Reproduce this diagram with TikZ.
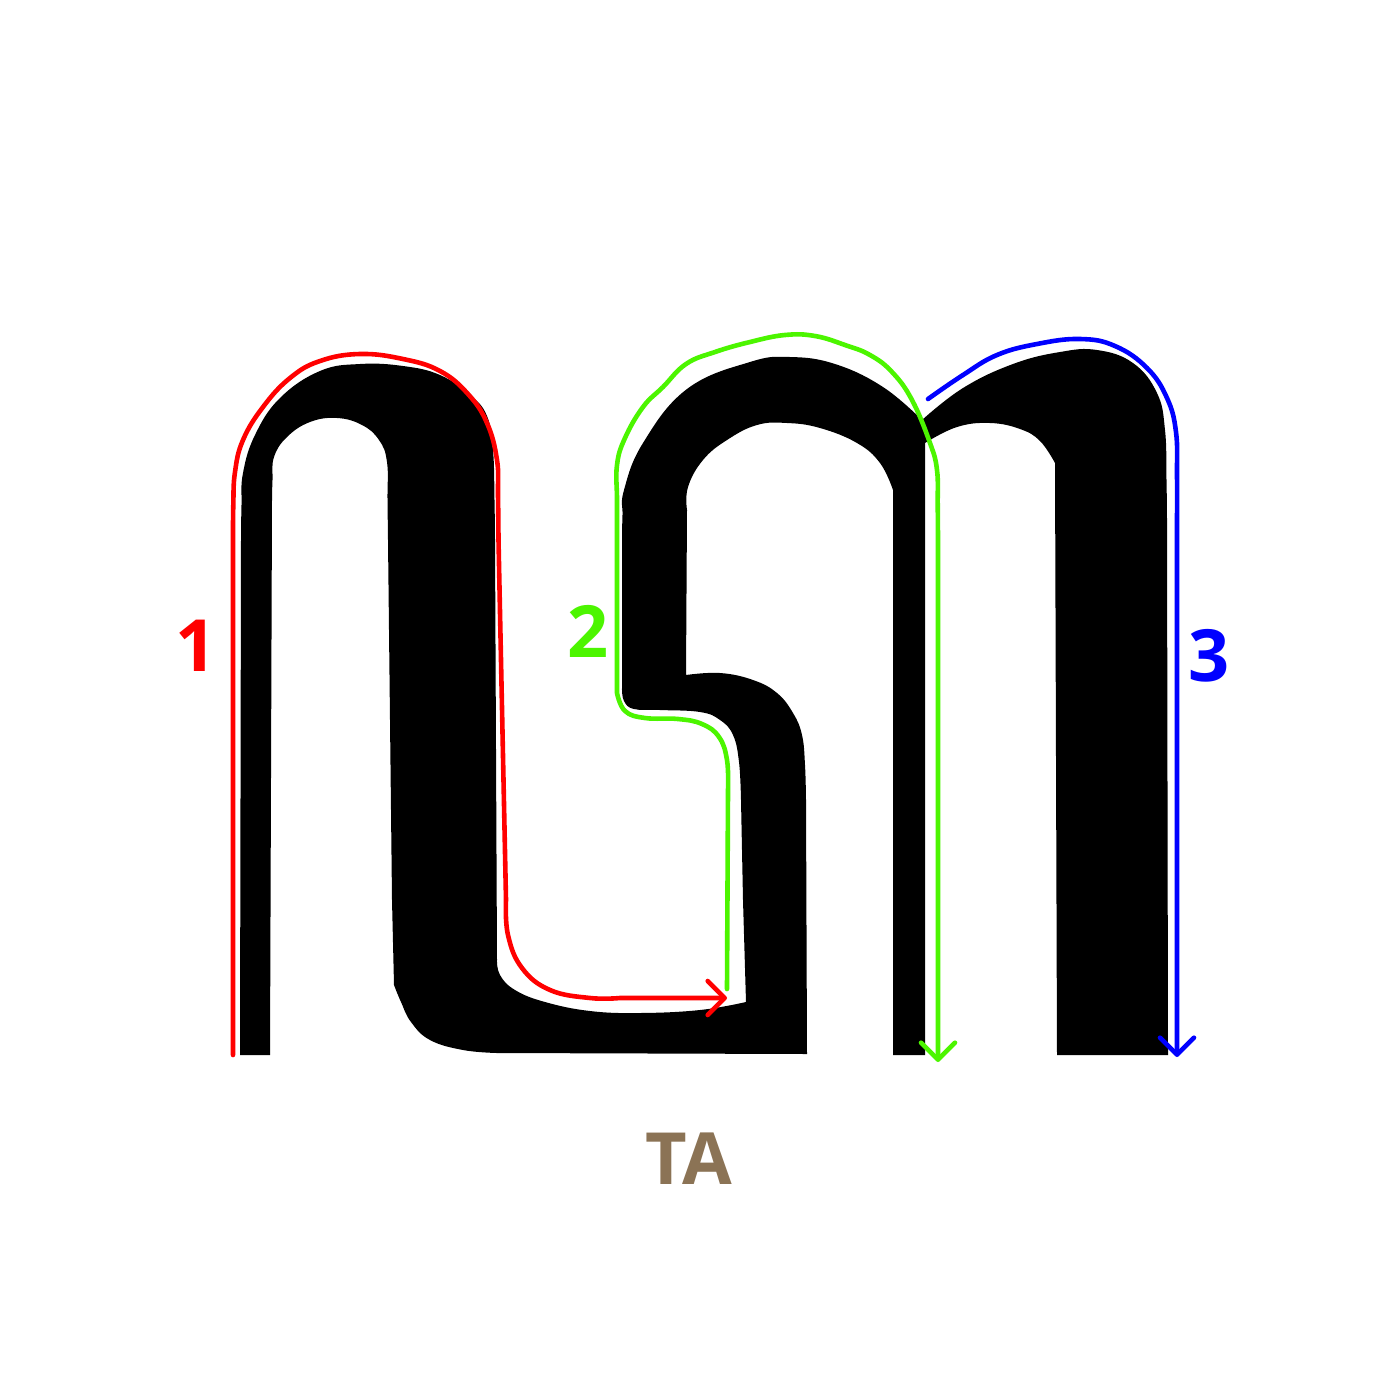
\documentclass[tikz,border=0pt]{standalone}
\usepackage{fontspec}
\newfontfamily\labfont{Open Sans}
\usetikzlibrary{arrows.meta}
\definecolor{strokered}{RGB}{255,0,0}
\definecolor{strokegreen}{RGB}{76,245,0}
\definecolor{strokeblue}{RGB}{0,0,255}
\definecolor{tabrown}{RGB}{139,115,85}
\tikzset{
  stroke/.style={line width=2.3pt, line cap=round, line join=round,
     -{Straight Barb[length=8.5pt,width=17pt,line width=2.3pt,round]}},
  lab/.style={inner sep=0pt, font=\labfont\bfseries\fontsize{36}{40}\selectfont},
  sm/.style={smooth,tension=0.7},
}
\begin{document}
\begin{tikzpicture}[x=0.5pt,y=-0.5pt]
\useasboundingbox (0,0) rectangle (1377,1377);
\fill[white] (0,0) rectangle (1377,1377);
% glyph
\fill[black] (240,1055) -- (241,540)
 -- plot[sm] coordinates {(241,540) (241.5,505) (243,473) (255,435) (280,398) (320,371) (360,364) (403,366) (440,375) (470,395) (487,416) (493,450) (494.5,500) (495,540)}
 -- (497,960)
 -- plot[sm] coordinates {(497,960) (500,975) (515,990) (545,1002) (590,1011) (640,1013) (700,1010) (746,1002)}
 -- (743,900) -- (741,800)
 -- plot[sm] coordinates {(741,800) (739,762) (733,735) (720,720) (700,712) (660,710) (634,709) (624,701) (622,688)}
 -- (622,540)
 -- plot[sm] coordinates {(622,540) (622.5,515) (624,490) (643,443) (687,389) (750,362) (790,357) (835,364) (883,387) (922,420)}
 -- plot[sm] coordinates {(922,420) (963,388) (1013,364) (1060,352) (1097,350) (1133,363) (1157,393) (1165,430) (1166.5,480) (1167,520)}
 -- (1168,1055) -- (1057,1055) -- (1055,463)
 -- plot[sm] coordinates {(1055,463) (1040,441) (1020,429) (990,423) (957,427) (925,443)}
 -- (925,1055) -- (893,1055) -- (893,490)
 -- plot[sm] coordinates {(893,490) (880,463) (857,443) (820,428) (787,423) (757,425) (727,440) (703,460) (688,487) (687,510)}
 -- (686,675)
 -- plot[sm] coordinates {(686,675) (720,673) (753,680) (777,693) (793,713) (802,735) (805,765) (806,800)}
 -- (807,1054) -- (497,1053)
 -- plot[sm] coordinates {(497,1053) (463,1050) (430,1040) (411,1022) (401,1002) (394,985)}
 -- (392,900) -- (388,540)
 -- plot[sm] coordinates {(388,540) (387.5,500) (387,462) (379,440) (362,425) (337,418) (310,422) (287,437) (274,457) (272.5,480) (272,500)}
 -- (270,1055) -- cycle;
% stroke 1
\draw[stroke, strokered] (233,1055) -- (233,540)
 -- plot[sm] coordinates {(233,540) (233.3,505) (235,472) (243,440) (263,407) (290,378) (320,361) (360,354) (403,359) (440,371) (468,394) (487,423) (497,460) (498,495) (498.5,540)}
 -- (506,900)
 -- plot[sm] coordinates {(506,900) (508,935) (522,968) (550,990) (590,998) (620,998)}
 -- (727,998);
% stroke 2
\draw[stroke, strokegreen] (727,989) -- (728,790)
 -- plot[sm] coordinates {(728,790) (727,760) (719,737) (702,724) (678,719) (645,718) (625,711) (617,693)}
 -- (617,540)
 -- plot[sm] coordinates {(617,540) (617,500) (617,465) (625,438) (643,407) (663,387) (686,364) (715,352) (750,342) (785,335) (815,336) (845,345) (870,355) (892,372) (912,400) (930,443) (937,470) (937.7,505) (938,540)}
 -- (938,1062);
% stroke 3
\draw[stroke, strokeblue] (928,399)
 -- plot[sm] coordinates {(928,399) (963,375) (997,355) (1037,344) (1080,339) (1115,346) (1147,368) (1167,398) (1176,432) (1177,475) (1177,520)}
 -- (1177,1057);
% labels
\node[lab, text=strokered] (n1) at (196,646) {1};
\node[lab, text=strokegreen] (n2) at (588,631) {2};
\node[lab, text=strokeblue] (n3) at (1209,656) {3};
\node[lab, text=tabrown] (ta) at (689,1159) {TA};
\end{tikzpicture}
\end{document}
